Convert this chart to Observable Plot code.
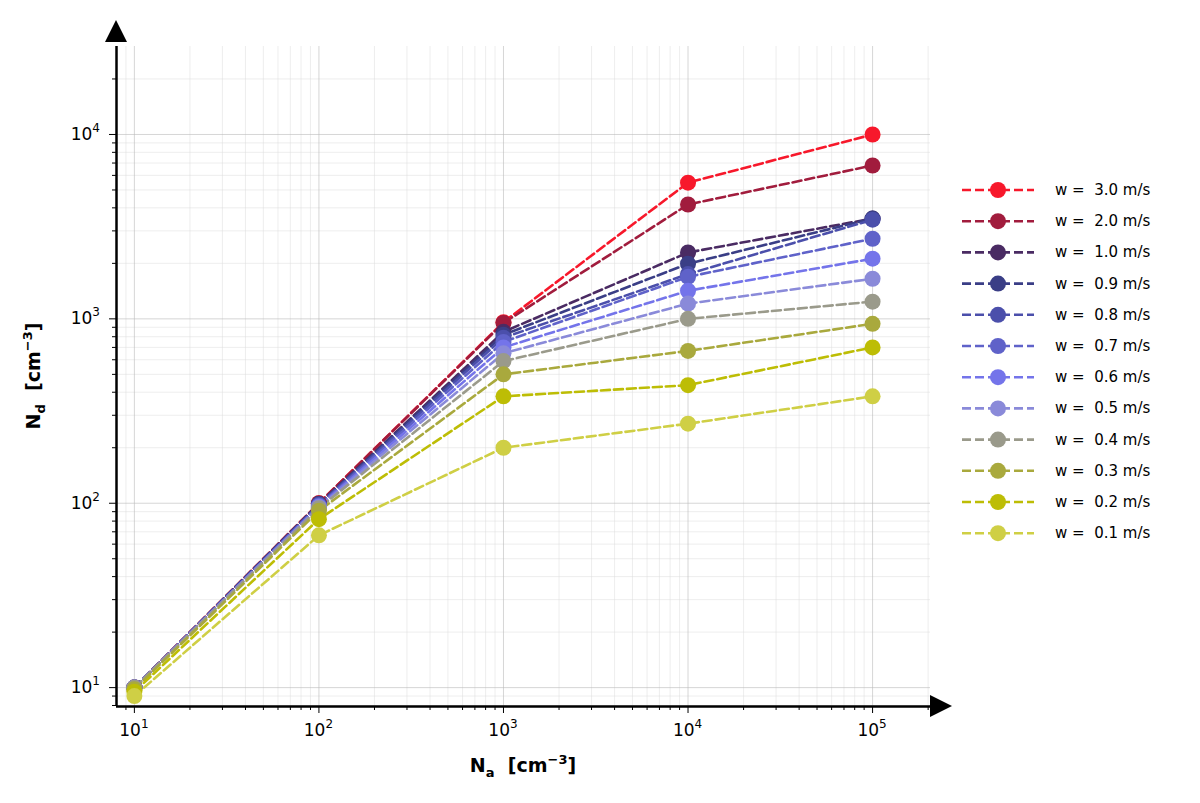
<!DOCTYPE html>
<html><head><meta charset="utf-8">
<script src="https://cdn.jsdelivr.net/npm/d3@7"></script>
<script src="https://cdn.jsdelivr.net/npm/@observablehq/plot@0.6"></script>
<style>body{margin:0;background:#fff;font-family:"DejaVu Sans",sans-serif}#c{position:relative;width:1200px;height:803px}</style>
</head><body><div id="c"></div>
<script>
const Na = [1e1, 1e2, 1e3, 1e4, 1e5];
const speeds = ["3.0","2.0","1.0","0.9","0.8","0.7","0.6","0.5","0.4","0.3","0.2","0.1"];
const colors = ["#f7182b","#a11c3d","#4a2b63","#3a3e86","#4b4fab","#5f62c9","#7474ea","#8a8ad9","#9a9a8b","#a9a93d","#bdbd05","#cfcf45"];
const Nd = {
 "3.0":[10,100,960,5480,10000],
 "2.0":[10,100,950,4170,6790],
 "1.0":[10,99,850,2290,3500],
 "0.9":[10,99,820,1990,3500],
 "0.8":[10,98,790,1750,3450],
 "0.7":[10,97,750,1690,2720],
 "0.6":[10,96,700,1420,2120],
 "0.5":[10,95,650,1210,1650],
 "0.4":[10,94,590,1000,1240],
 "0.3":[9.8,91,500,670,940],
 "0.2":[9.5,82,380,437,700],
 "0.1":[9,67,200,270,380]
};
const data = speeds.flatMap((w,i)=>Na.map((x,j)=>({w, x, y:Nd[w][j], i})));
const majors=[1e1,1e2,1e3,1e4,1e5];
const yMajors=[1e1,1e2,1e3,1e4];
const xMin=[];for(let e=0;e<=5;e++)for(let k=2;k<10;k++){const v=k*10**e;if(v>8&&v<2.06e5)xMin.push(v);}
const yMin=[];for(let e=0;e<=4;e++)for(let k=2;k<10;k++){const v=k*10**e;if(v>7.9&&v<3e4)yMin.push(v);}
const plot = Plot.plot({
  width:1200,height:803,marginLeft:116,marginRight:270,marginTop:46,marginBottom:97,
  style:{fontFamily:"DejaVu Sans",color:"#000"},
  x:{type:"log",domain:[8,2.06e5]},
  y:{type:"log",domain:[7.9,3e4]},
  marks:[
    Plot.gridX(xMin,{stroke:"#ddd",strokeOpacity:0.5}),
    Plot.gridY(yMin,{stroke:"#ddd",strokeOpacity:0.5}),
    Plot.gridX(majors,{stroke:"#bbb",strokeOpacity:0.6}),
    Plot.gridY(yMajors,{stroke:"#bbb",strokeOpacity:0.6}),
    Plot.axisX(majors,{tickSize:7,tickFormat:()=>"",label:null}),
    Plot.axisX(xMin,{tickSize:4,tickFormat:()=>"",label:null}),
    Plot.axisY(yMajors,{tickSize:7,tickFormat:()=>"",label:null}),
    Plot.axisY(yMin,{tickSize:4,tickFormat:()=>"",label:null}),
    Plot.line(data,{x:"x",y:"y",z:"w",stroke:d=>colors[d.i],strokeWidth:2.6,strokeDasharray:"9,4"}),
    Plot.dot(data,{x:"x",y:"y",fill:d=>colors[d.i],r:8}),
    Plot.ruleX([8],{stroke:"#000",strokeWidth:2.5}),
    Plot.ruleY([7.9],{stroke:"#000",strokeWidth:2.5})
  ]
});
document.getElementById("c").appendChild(plot);
const sx=plot.scale("x"), sy=plot.scale("y");
const svg=d3.select(plot);
const g=svg.append("g").attr("font-family","DejaVu Sans").attr("fill","#000");
majors.forEach(v=>{const t=g.append("text").attr("x",sx.apply(v)).attr("y",736).attr("text-anchor","middle").attr("font-size",17);
 t.append("tspan").text("10");t.append("tspan").attr("font-size",12).attr("dy",-8).text(Math.round(Math.log10(v)));});
yMajors.forEach(v=>{const t=g.append("text").attr("x",100).attr("y",sy.apply(v)+6).attr("text-anchor","end").attr("font-size",17);
 t.append("tspan").text("10");t.append("tspan").attr("font-size",12).attr("dy",-8).text(Math.round(Math.log10(v)));});
svg.append("path").attr("d","M105,42 L116,20 L127,42 Z").attr("fill","#000");
svg.append("path").attr("d","M930,695 L952,706 L930,717 Z").attr("fill","#000");
function lab(t,sub){t.append("tspan").text("N");t.append("tspan").attr("font-size",13).attr("dy",5).text(sub);
 t.append("tspan").attr("dy",-5).attr("xml:space","preserve").text("  [cm");t.append("tspan").attr("font-size",13).attr("dy",-8).text("−3");t.append("tspan").attr("dy",8).text("]");}
lab(g.append("text").attr("x",523).attr("y",772).attr("text-anchor","middle").attr("font-size",19).attr("font-weight","bold"),"a");
lab(g.append("text").attr("transform","translate(40,376) rotate(-90)").attr("text-anchor","middle").attr("font-size",19).attr("font-weight","bold"),"d");
const lg=svg.append("g");
speeds.forEach((w,i)=>{const y=190+i*31.2;
 lg.append("line").attr("x1",962).attr("x2",1034).attr("y1",y).attr("y2",y).attr("stroke",colors[i]).attr("stroke-width",2.6).attr("stroke-dasharray","9,4");
 lg.append("circle").attr("cx",998).attr("cy",y).attr("r",8).attr("fill",colors[i]);
 lg.append("text").attr("x",1055).attr("y",y+5).attr("text-anchor","start").attr("font-size",15).attr("font-family","DejaVu Sans").attr("fill","#000").attr("xml:space","preserve").text("w =  "+w+" m/s");
});
</script></body></html>
